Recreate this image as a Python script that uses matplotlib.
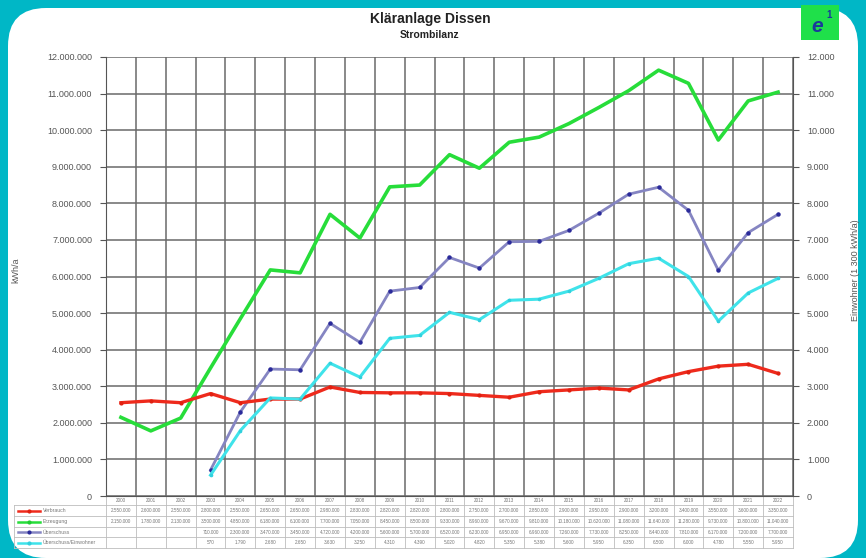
import matplotlib.pyplot as plt
from matplotlib.patches import FancyBboxPatch
from matplotlib.ticker import FuncFormatter, MultipleLocator
import numpy as np

# data
years = list(range(2000, 2023))
verbrauch = [2550000, 2600000, 2550000, 2800000, 2550000, 2650000, 2650000, 2980000,
             2830000, 2820000, 2820000, 2800000, 2750000, 2700000, 2850000, 2900000,
             2950000, 2900000, 3200000, 3400000, 3550000, 3600000, 3350000]
erzeugung = [2150000, 1780000, 2130000, 3500000, 4850000, 6180000, 6100000, 7700000,
             7050000, 8450000, 8500000, 9330000, 8960000, 9670000, 9810000, 10180000,
             10620000, 11080000, 11640000, 11280000, 9730000, 10800000, 11040000]
ueberschuss = [np.nan, np.nan, np.nan, 710000, 2300000, 3470000, 3450000, 4720000,
               4200000, 5600000, 5700000, 6520000, 6230000, 6950000, 6960000, 7260000,
               7730000, 8250000, 8440000, 7810000, 6170000, 7200000, 7700000]
einwohner = [np.nan, np.nan, np.nan, 570, 1790, 2680, 2650, 3630,
             3250, 4310, 4390, 5020, 4820, 5350, 5380, 5600,
             5950, 6350, 6500, 6000, 4780, 5550, 5950]

names = ["Verbrauch", "Erzeugung", "Überschuss", "Überschuss/Einwohner"]
colors = ["#ee2a1c", "#27dd3a", "#8585c2", "#3fe3ea"]
mcolors = ["#e02010", "#20cc30", "#2a2a9a", "#30d0dd"]

W, H = 866, 558
plt.rcParams['font.family'] = ['Liberation Sans', 'DejaVu Sans']
fig = plt.figure(figsize=(W / 100, H / 100), dpi=100)
fig.patch.set_facecolor("#00b7c6")

# background panel + table live on a pixel-coordinate overlay
bg = fig.add_axes([0, 0, 1, 1], zorder=-1)
bg.set_xlim(0, W)
bg.set_ylim(H, 0)
bg.axis("off")
bg.add_patch(FancyBboxPatch((8, 8), W - 16, H - 8, boxstyle="round,pad=0,rounding_size=38",
                            fc="white", ec="none"))

L, R, T, B = 106, 793, 57, 496
ax = fig.add_axes([L / W, 1 - B / H, (R - L) / W, (B - T) / H])
ax.set_xlim(-0.5, len(years) - 0.5)
ax.set_ylim(0, 12000000)
ax.yaxis.set_major_locator(MultipleLocator(1000000))
ax.yaxis.set_major_formatter(FuncFormatter(lambda v, p: f"{v:,.0f}".replace(",", ".")))
ax.set_xticks(np.arange(len(years) + 1) - 0.5, minor=True)
ax.set_xticks([])
ax.grid(True, which="major", axis="y", color="#6a6a6a", lw=1.1)
ax.grid(True, which="minor", axis="x", color="#6a6a6a", lw=1.1)
ax.tick_params(axis="x", which="both", length=0)
ax.tick_params(axis="y", labelsize=6.5, labelcolor="#555555", color="#555555", length=4, pad=6)
ax.spines["top"].set_visible(False)
ax.spines["left"].set_color("#555555")
ax.spines["bottom"].set_color("#555555")
ax.spines["right"].set_visible(False)
ax.set_axisbelow(True)

x = np.arange(len(years))
ax.plot(x, verbrauch, color=colors[0], lw=2.4, marker="o", ms=2.0, mfc=mcolors[0], mec=mcolors[0], zorder=5)
ax.plot(x, erzeugung, color=colors[1], lw=2.6, zorder=4)
ax.plot(x, ueberschuss, color=colors[2], lw=2.0, marker="o", ms=2.2, mfc=mcolors[2], mec=mcolors[2], zorder=4)

ax2 = ax.twinx()
ax2.set_ylim(0, 12000)
ax2.yaxis.set_major_locator(MultipleLocator(1000))
ax2.yaxis.set_major_formatter(FuncFormatter(lambda v, p: f"{v:,.0f}".replace(",", ".")))
ax2.tick_params(axis="y", labelsize=6.5, labelcolor="#555555", color="#555555", length=4, pad=6)
ax2.spines["right"].set_color("#555555")
ax2.spines["top"].set_visible(False)
ax2.spines["left"].set_visible(False)
ax2.spines["bottom"].set_visible(False)
ax2.plot(x, einwohner, color=colors[3], lw=2.2, marker="o", ms=1.6, mfc=mcolors[3], mec=mcolors[3], zorder=4)

fs_label = 6.5
fig.text(16 / W, 1 - 270 / H, "kWh/a", rotation=90, ha="center", va="center", fontsize=fs_label, color="#555555")
fig.text(856 / W, 1 - 270 / H, "Einwohner (1 300 kWh/a)", rotation=90, ha="center", va="center",
         fontsize=fs_label, color="#555555")

# title
bg.text(430, 19, "Kläranlage Dissen", ha="center", va="center", fontsize=10, color="#222222",
        family=["Liberation Sans Narrow", "Liberation Sans"], fontweight="bold")
bg.text(430, 35, "Strombilanz", ha="center", va="center", fontsize=7.5, color="#222222",
        family=["Liberation Sans Narrow", "Liberation Sans"], fontweight="bold")

# logo
bg.add_patch(FancyBboxPatch((801, 5), 38, 35, boxstyle="square,pad=0", fc="#1fe04a", ec="none"))
bg.text(817, 26, "e", ha="center", va="center", fontsize=15, fontweight="bold", style="italic", color="#1a3a9a")
bg.text(829, 15, "1", ha="center", va="center", fontsize=7, fontweight="bold", color="#1a3a9a")

# data table under the plot
cw = (R - L) / len(years)
rows_y = [496, 505, 516, 527, 537, 548]
tab_left = 14
lc = "#bdbdbd"
for yy in rows_y[1:]:
    bg.plot([tab_left, R], [yy, yy], color=lc, lw=0.6)
bg.plot([L, R], [rows_y[0], rows_y[0]], color=lc, lw=0.6)
for i in range(len(years) + 1):
    bg.plot([L + i * cw] * 2, [rows_y[0], rows_y[-1]], color=lc, lw=0.6)
bg.plot([tab_left, tab_left], [rows_y[1], rows_y[-1]], color=lc, lw=0.6)

tfs = 3.3
for i, yr in enumerate(years):
    bg.text(L + (i + 0.5) * cw, (rows_y[0] + rows_y[1]) / 2, str(yr), ha="center", va="center",
            fontsize=tfs, color="#777777")

series = [verbrauch, erzeugung, ueberschuss, einwohner]
for r, (vals, nm) in enumerate(zip(series, names)):
    yc = (rows_y[r + 1] + rows_y[r + 2]) / 2
    bg.plot([18, 40], [yc, yc], color=colors[r], lw=1.8)
    bg.plot([29], [yc], marker="o", ms=2, color=mcolors[r])
    bg.text(43, yc, nm, ha="left", va="center", fontsize=tfs + 0.4, color="#777777")
    for i, v in enumerate(vals):
        if np.isnan(v):
            continue
        bg.text(L + (i + 0.5) * cw, yc, f"{v:,.0f}".replace(",", "."), ha="center", va="center",
                fontsize=tfs, color="#777777")

fig.savefig("out.png", dpi=100, facecolor=fig.get_facecolor())
